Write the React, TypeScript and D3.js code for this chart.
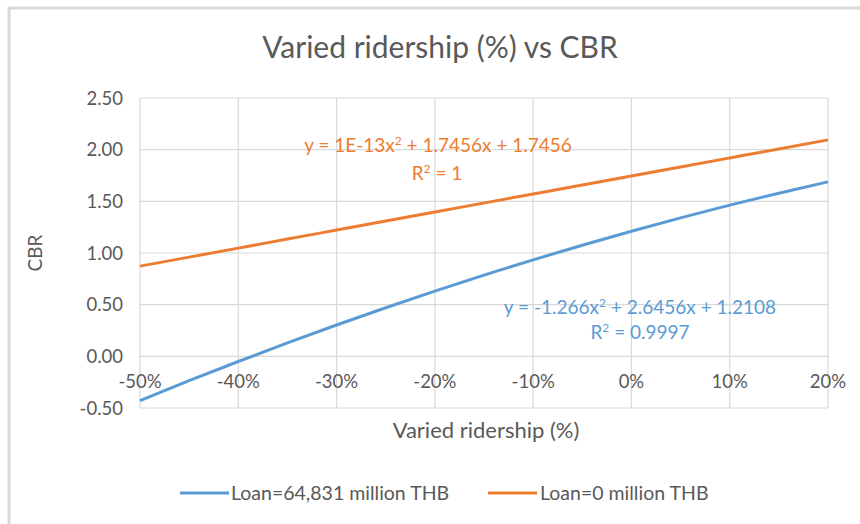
import React from "react";
import * as d3 from "d3";

const ridership = [-0.5, -0.45, -0.4, -0.35, -0.3, -0.25, -0.2, -0.15, -0.1, -0.05, 0, 0.05, 0.1, 0.15, 0.2];
const cbrLoan = [-0.428, -0.236, -0.05, 0.13, 0.303, 0.47, 0.631, 0.786, 0.934, 1.075, 1.211, 1.34, 1.463, 1.579, 1.689];
const cbrNoLoan = [0.873, 0.96, 1.047, 1.135, 1.222, 1.309, 1.397, 1.484, 1.571, 1.658, 1.746, 1.833, 1.92, 2.007, 2.095];
const yTicks = [-0.5, 0, 0.5, 1, 1.5, 2, 2.5];
const xTicks = [-0.5, -0.4, -0.3, -0.2, -0.1, 0, 0.1, 0.2];
const seriesNames = ["Loan=64,831 million THB", "Loan=0 million THB"];
const trendLoan = [-1.266, 2.6456, 1.2108];
const trendNoLoan = [1e-13, 1.7456, 1.7456];

const BLUE = "#5B9BD5";
const ORANGE = "#ED7D31";
const GRID = "#D9D9D9";
const TEXT = "#595959";
const FONT = "Lato, 'Open Sans', sans-serif";

export default function App() {
  const x = d3.scaleLinear().domain([-0.5, 0.2]).range([140, 828]);
  const y = d3.scaleLinear().domain([-0.5, 2.5]).range([408, 98]);
  const line = d3
    .line<[number, number]>()
    .x((d) => x(d[0]))
    .y((d) => y(d[1]))
    .curve(d3.curveMonotoneX);
  const loanPts = ridership.map((r, i) => [r, cbrLoan[i]] as [number, number]);
  const noLoanPts = ridership.map((r, i) => [r, cbrNoLoan[i]] as [number, number]);
  const fine = d3.range(-0.5, 0.2001, 0.01);
  const trend = (c: number[]) => fine.map((r) => [r, c[0] * r * r + c[1] * r + c[2]] as [number, number]);
  const pct = (t: number) => `${Math.round(t * 100)}%`;

  return (
    <svg
      width={860}
      height={524}
      style={{ position: "absolute", left: 0, top: 0, background: "#fff" }}
      fontFamily={FONT}
    >
      <rect x={9} y={8} width={860} height={530} fill="#fff" stroke={GRID} strokeWidth={3} />
      <text x={440} y={58} textAnchor="middle" fontSize={30} fill={TEXT}>
        Varied ridership (%) vs CBR
      </text>
      {yTicks.map((t) => (
        <line key={"gy" + t} x1={140} x2={828} y1={y(t)} y2={y(t)} stroke={GRID} strokeWidth={1.2} />
      ))}
      {xTicks.map((t) => (
        <line key={"gx" + t} x1={x(t)} x2={x(t)} y1={98} y2={408} stroke={GRID} strokeWidth={1.2} />
      ))}
      {yTicks.map((t) => (
        <text key={"ly" + t} x={123} y={y(t) + 6.5} textAnchor="end" fontSize={18.5} fill={TEXT}>
          {t.toFixed(2)}
        </text>
      ))}
      {xTicks.map((t) => (
        <text key={"lx" + t} x={x(t)} y={y(0) + 32} textAnchor="middle" fontSize={18.5} fill={TEXT}>
          {pct(t)}
        </text>
      ))}
      <text x={486} y={438} textAnchor="middle" fontSize={22} fill={TEXT}>
        Varied ridership (%)
      </text>
      <text
        transform="translate(42,253) rotate(-90)"
        textAnchor="middle"
        fontSize={19}
        fill={TEXT}
      >
        CBR
      </text>
      <path d={line(noLoanPts) || ""} fill="none" stroke={ORANGE} strokeWidth={3} />
      <path d={line(loanPts) || ""} fill="none" stroke={BLUE} strokeWidth={3} />
      <path d={line(trend(trendNoLoan)) || ""} fill="none" stroke={ORANGE} strokeWidth={1.5} strokeDasharray="1.5 1.5" />
      <path d={line(trend(trendLoan)) || ""} fill="none" stroke={BLUE} strokeWidth={1.5} strokeDasharray="1.5 1.5" />
      <text x={438} y={152} textAnchor="middle" fontSize={19} fill={ORANGE}>
        y = 1E-13x<tspan fontSize={12} dy={-7}>2</tspan>
        <tspan dy={7}> + 1.7456x + 1.7456</tspan>
      </text>
      <text x={437} y={180} textAnchor="middle" fontSize={19} fill={ORANGE}>
        R<tspan fontSize={12} dy={-7}>2</tspan>
        <tspan dy={7}> = 1</tspan>
      </text>
      <text x={640} y={314} textAnchor="middle" fontSize={19} fill={BLUE}>
        y = -1.266x<tspan fontSize={12} dy={-7}>2</tspan>
        <tspan dy={7}> + 2.6456x + 1.2108</tspan>
      </text>
      <text x={640} y={339} textAnchor="middle" fontSize={19} fill={BLUE}>
        R<tspan fontSize={12} dy={-7}>2</tspan>
        <tspan dy={7}> = 0.9997</tspan>
      </text>
      <line x1={180} x2={229} y1={493} y2={493} stroke={BLUE} strokeWidth={3} />
      <text x={231} y={500} fontSize={19.5} fill={TEXT}>
        {seriesNames[0]}
      </text>
      <line x1={488} x2={537} y1={493} y2={493} stroke={ORANGE} strokeWidth={3} />
      <text x={540} y={500} fontSize={19.5} fill={TEXT}>
        {seriesNames[1]}
      </text>
    </svg>
  );
}
